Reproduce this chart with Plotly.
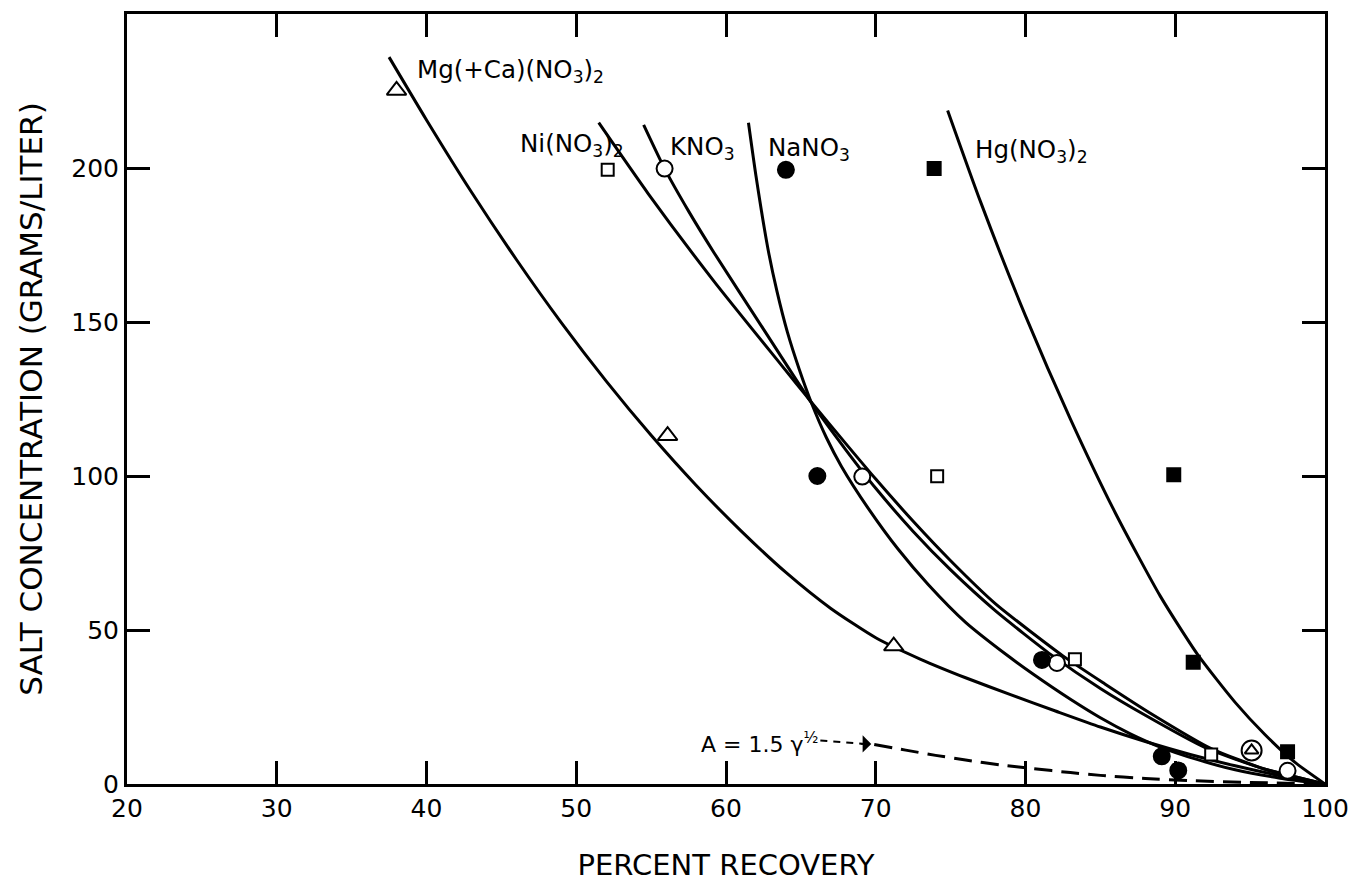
import plotly.graph_objects as go

# ---------------- data ----------------
# Smooth curves (percent recovery, salt concentration g/L)
mg_x = [37.5, 40, 43, 46, 49, 52, 55, 58, 61, 64, 67, 70, 73, 76, 79, 82, 85, 88, 91, 94, 97, 100]
mg_y = [236.0, 215.6, 192.2, 170.3, 149.8, 130.8, 113.2, 97.0, 82.2, 68.7, 57.0, 47.5, 40.5,
        34.5, 29.0, 23.7, 18.5, 13.8, 9.6, 5.9, 2.7, 0.0]

ni_x = [51.5, 54.8, 59.2, 63.7, 65.7, 68, 70, 72.5, 75, 78, 82.5, 85.3, 88.5, 92.4, 96, 100]
ni_y = [214.7, 191.7, 163.2, 136.0, 124.0, 110.5, 99.0, 85.3, 72.5, 58.5, 41.6, 32.5, 22.5,
        11.5, 4.8, 0.0]

k_x = [54.5, 55.9, 57.5, 59.2, 62.5, 65.7, 68, 70, 72.5, 75, 78, 81.7, 85, 88, 92, 96, 100]
k_y = [214.0, 199.8, 186.0, 172.5, 147.7, 123.8, 108.5, 96.0, 82.0, 69.5, 56.2, 42.0, 31.0,
       22.3, 11.8, 4.8, 0.0]

na_x = [61.5, 62.0, 62.8, 63.4, 64.1, 64.9, 65.7, 66.7, 67.7, 69.5, 71.5, 73.5, 76, 78.8,
        80.5, 83, 85, 87, 89, 91.5, 94, 97, 100]
na_y = [214.7, 197.5, 173.8, 160.0, 146.7, 134.5, 123.8, 112.5, 103.2, 89.5, 76.2, 64.8, 52.5,
        41.7, 35.7, 27.5, 21.5, 16.3, 12.0, 7.9, 4.6, 1.9, 0.0]

hg_x = [74.8, 77, 80, 83, 86, 89, 91.5, 94, 96, 98, 100]
hg_y = [218.7, 189.0, 152.0, 118.5, 88.0, 61.0, 42.0, 26.5, 16.0, 7.0, 0.0]

# Dashed theoretical curve  A = 1.5 gamma^(1/2)
theo_x = [69.9, 72, 74, 76, 78.3, 80.5, 83, 85, 88, 91, 95, 100]
theo_y = [12.8, 11.0, 9.3, 7.8, 6.2, 5.0, 3.7, 2.8, 1.8, 1.1, 0.5, 0.0]
arrow_x = [66.3, 69.3]
arrow_y = [14.1, 13.0]

# Measured points
mg_pts_x = [38.0, 56.1, 71.2]
mg_pts_y = [225.2, 113.1, 44.8]
ring_x = [95.1]          # Mg point drawn inside a circle
ring_y = [10.9]
ni_pts_x = [52.1, 74.1, 83.3, 92.4]
ni_pts_y = [199.4, 99.9, 40.5, 9.6]
k_pts_x = [55.9, 69.1, 82.1, 97.5]
k_pts_y = [199.8, 99.8, 39.3, 4.3]
na_pts_x = [64.0, 66.1, 81.1, 89.1, 90.2]
na_pts_y = [199.4, 100.0, 40.3, 9.0, 4.4]
hg_pts_x = [73.9, 89.9, 91.2, 97.5]
hg_pts_y = [199.8, 100.4, 39.5, 10.5]

# Curve labels
label_text = ["Mg(+Ca)(NO<sub>3</sub>)<sub>2</sub>", "Ni(NO<sub>3</sub>)<sub>2</sub>",
              "KNO<sub>3</sub>", "NaNO<sub>3</sub>", "Hg(NO<sub>3</sub>)<sub>2</sub>"]
label_x = [39.2, 46.1, 56.1, 62.7, 76.5]
label_y = [231.5, 207.5, 206.5, 206.3, 205.6]

x_ticks = [20, 30, 40, 50, 60, 70, 80, 90, 100]
y_ticks = [0, 50, 100, 150, 200]

FONT = "DejaVu Sans"

fig = go.Figure()


def add_curve(x, y, dash="solid", width=3):
    fig.add_trace(go.Scatter(x=x, y=y, mode="lines",
                             line=dict(color="black", width=width, dash=dash,
                                       shape="spline", smoothing=0.6),
                             showlegend=False, hoverinfo="skip"))


for cx, cy in [(mg_x, mg_y), (ni_x, ni_y), (k_x, k_y), (na_x, na_y), (hg_x, hg_y)]:
    add_curve(cx, cy)

add_curve(theo_x, theo_y, dash="18px,9px", width=3)
add_curve(arrow_x, arrow_y, dash="7px,6px", width=2)


def add_points(x, y, symbol, size, fill, lw=2):
    fig.add_trace(go.Scatter(x=x, y=y, mode="markers",
                             marker=dict(symbol=symbol, size=size, color=fill, opacity=1,
                                         line=dict(color="black", width=lw)),
                             showlegend=False, hoverinfo="skip"))


add_points(ring_x, ring_y, "circle", 20, "white")
add_points(ring_x, ring_y, "triangle-up", 12, "white")
add_points(mg_pts_x, mg_pts_y, "triangle-up", 17, "white")
add_points(ni_pts_x, ni_pts_y, "square", 12, "white")
add_points(k_pts_x, k_pts_y, "circle", 16, "white")
add_points(na_pts_x, na_pts_y, "circle", 16, "black")
add_points(hg_pts_x, hg_pts_y, "square", 13, "black")

for t, lx, ly in zip(label_text, label_x, label_y):
    fig.add_annotation(x=lx, y=ly, text=t, showarrow=False, xanchor="left",
                       yanchor="middle", font=dict(family=FONT, size=24.5, color="black"))

fig.add_annotation(x=58.2, y=13.4, text="A = 1.5 \u03b3<sup>\u00bd</sup>", showarrow=False,
                   xanchor="left", yanchor="middle",
                   font=dict(family=FONT, size=22, color="black"))
fig.add_annotation(x=arrow_x[1] + 0.4, y=arrow_y[1], ax=-12, ay=0, text="", showarrow=True,
                   arrowhead=1, arrowsize=1.6, arrowwidth=1.8, arrowcolor="black")

axis_common = dict(showgrid=False, zeroline=False, showline=True, linecolor="black",
                   linewidth=3, mirror="ticks", ticks="inside", ticklen=23,
                   tickwidth=2.5, tickcolor="black", ticklabeloverflow="allow",
                   automargin=False,
                   tickfont=dict(family=FONT, size=25, color="black"))

fig.update_xaxes(range=[20, 100], tickvals=x_ticks, ticktext=[str(v) for v in x_ticks],
                 title=dict(text="PERCENT RECOVERY", standoff=33,
                            font=dict(family=FONT, size=29, color="black")),
                 **axis_common)
fig.update_yaxes(range=[0, 250], tickvals=y_ticks, ticktext=[str(v) for v in y_ticks],
                 title=dict(text="SALT CONCENTRATION (GRAMS/LITER)", standoff=20,
                            font=dict(family=FONT, size=31, color="black")),
                 **axis_common)

fig.update_layout(width=1348, height=882, plot_bgcolor="white", paper_bgcolor="white",
                  margin=dict(l=127, r=23, t=14, b=98), showlegend=False)

fig.write_html("out.html", config={"displayModeBar": False},
               post_script="document.body.style.margin='0';")
